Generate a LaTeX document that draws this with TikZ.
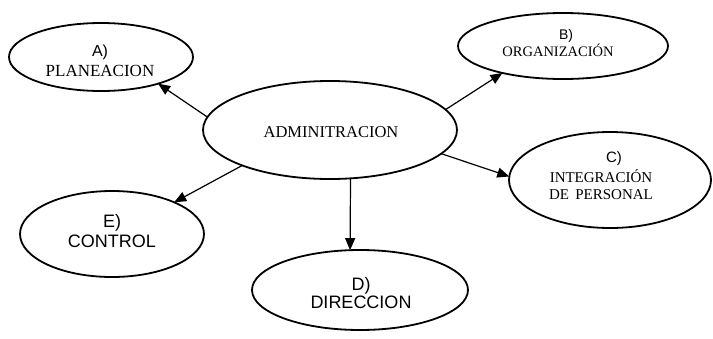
\documentclass[tikz,border=0pt]{standalone}
\usepackage{fontspec}
\setmainfont{Liberation Serif}
\newfontfamily\arial{Liberation Sans}
\usetikzlibrary{shapes.geometric,arrows.meta}
\begin{document}
\begin{tikzpicture}[x=1pt,y=-1pt,
  oval/.style={ellipse, draw, line width=1.8pt, inner sep=0pt, outer sep=0pt},
  txt/.style={align=center, inner sep=0pt, outer sep=0pt},
  link/.style={line width=1.2pt, -{Triangle[length=12pt,width=10pt]}}]
\useasboundingbox (0,0) rectangle (713,338);
% ellipses
\node[oval, minimum width=184pt, minimum height=68pt] (a) at (101,57) {};
\node[oval, minimum width=254pt, minimum height=98pt] (adm) at (330,130) {};
\node[oval, minimum width=210pt, minimum height=66pt] (b) at (563,46) {};
\node[oval, minimum width=202pt, minimum height=96pt] (c) at (610,180) {};
\node[oval, minimum width=184pt, minimum height=86pt] (e) at (112,234) {};
\node[oval, minimum width=216pt, minimum height=80pt] (d) at (360,290) {};
% texts
\node[txt, font=\fontsize{17}{20}\selectfont] (ta) at (100,61)
  {{\arial\fontsize{16}{20}\selectfont A)}\\PLANEACION};
\node[txt, font=\fontsize{16.5}{20}\selectfont] (tadm) at (331,132) {ADMINITRACION};
\node[txt, font=\fontsize{14.5}{15}\selectfont] (tb) at (558,43)
  {\hspace*{16pt}{\arial\fontsize{14}{15}\selectfont B)}\\ORGANIZACIÓN};
\node[txt, font=\fontsize{15}{17}\selectfont] (tc) at (601,176)
  {\hspace*{26pt}{\arial C)}\\[3pt]INTEGRACIÓN\\DE\ \,PERSONAL};
\node[txt, font=\arial\fontsize{18}{20}\selectfont] (te) at (112,231) {E)\\CONTROL};
\node[txt, font=\arial\fontsize{18}{18}\selectfont] (td) at (361,293) {D)\\DIRECCION};
% connectors
\draw[link] (adm.174.6) -- (a.-25.4);
\draw[link] (adm.10.6) -- (b.204.6);
\draw[link] (adm.-12) -- (c.178);
\draw[link] (adm.202.9) -- (e.27.7);
\draw[link] (adm.-67.5) -- (d.104);
\end{tikzpicture}
\end{document}
